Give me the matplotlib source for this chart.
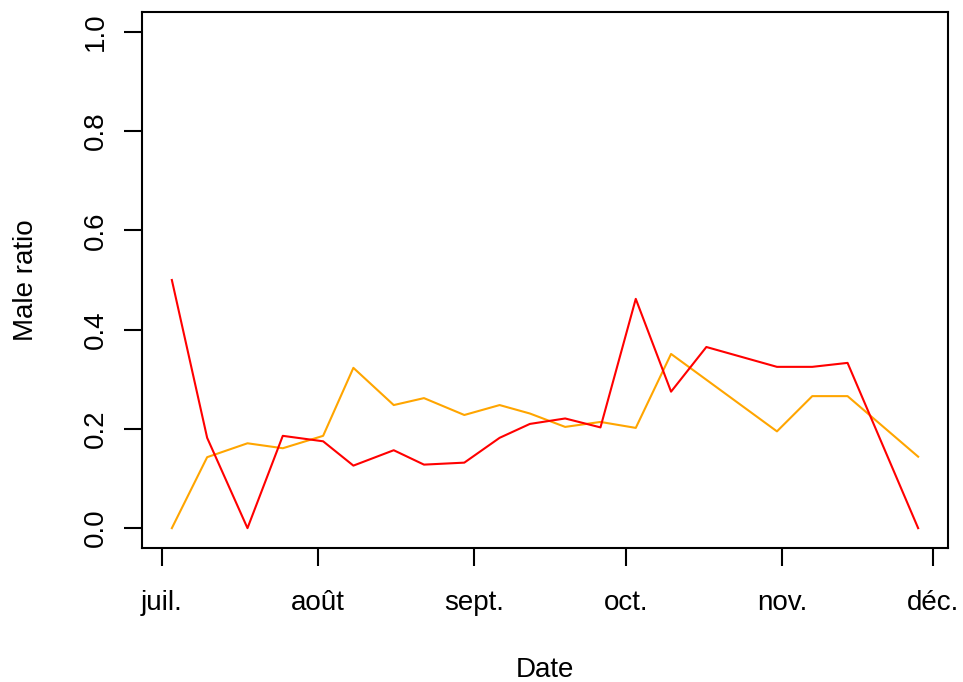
import matplotlib
matplotlib.use("Agg")
import matplotlib.pyplot as plt
import matplotlib.dates as mdates
import datetime as dt

plt.rcParams['font.family'] = ['Liberation Sans', 'DejaVu Sans']

# Sampling dates and male ratios for the two series
red_dates = ["2021-07-03", "2021-07-10", "2021-07-18", "2021-07-25", "2021-08-02",
             "2021-08-08", "2021-08-16", "2021-08-22", "2021-08-30", "2021-09-06",
             "2021-09-12", "2021-09-19", "2021-09-26", "2021-10-03", "2021-10-10",
             "2021-10-17", "2021-10-31", "2021-11-07", "2021-11-14", "2021-11-28"]
red_ratio = [0.500, 0.182, 0.000, 0.186, 0.175, 0.126, 0.157, 0.128, 0.132, 0.182,
             0.210, 0.221, 0.203, 0.462, 0.275, 0.365, 0.325, 0.325, 0.333, 0.000]

orange_dates = ["2021-07-03", "2021-07-10", "2021-07-18", "2021-07-25", "2021-08-02",
                "2021-08-08", "2021-08-16", "2021-08-22", "2021-08-30", "2021-09-06",
                "2021-09-12", "2021-09-19", "2021-09-26", "2021-10-03", "2021-10-10",
                "2021-10-31", "2021-11-07", "2021-11-14", "2021-11-28"]
orange_ratio = [0.000, 0.143, 0.171, 0.161, 0.186, 0.323, 0.248, 0.262, 0.228, 0.248,
                0.231, 0.204, 0.214, 0.202, 0.351, 0.195, 0.266, 0.266, 0.144]

month_ticks = ["2021-07-01", "2021-08-01", "2021-09-01", "2021-10-01", "2021-11-01", "2021-12-01"]
month_labels = ["juil.", "août", "sept.", "oct.", "nov.", "déc."]
y_ticks = [0.0, 0.2, 0.4, 0.6, 0.8, 1.0]

to_dt = lambda xs: [dt.datetime.strptime(s, "%Y-%m-%d") for s in xs]

FS = 20

fig = plt.figure(figsize=(9.63, 6.82), dpi=100)
ax = fig.add_axes([142/963, 1 - 548/682, (948 - 142)/963, (548 - 12)/682])

ax.plot(to_dt(orange_dates), orange_ratio, color="#FFA500", lw=1.5)
ax.plot(to_dt(red_dates), red_ratio, color="#FF0000", lw=1.5)

# x range padded by 4% on each side
xd = mdates.date2num(to_dt(red_dates + orange_dates))
lo, hi = xd.min(), xd.max()
pad = 0.04 * (hi - lo)
ax.set_xlim(lo - pad, hi + pad)
ax.set_ylim(-0.04, 1.04)

ax.set_xticks(mdates.date2num(to_dt(month_ticks)))
ax.set_xticklabels(month_labels)
ax.set_yticks(y_ticks)
ax.set_yticklabels([f"{v:.1f}" for v in y_ticks], rotation=90, va="center")

for s in ax.spines.values():
    s.set_linewidth(1.5)
    s.set_color("black")
ax.tick_params(axis="both", direction="out", length=13, width=1.5, labelsize=FS)
ax.tick_params(axis="x", pad=17.3)
ax.tick_params(axis="y", pad=11.2)

ax.set_xlabel("Date", fontsize=FS)
ax.set_ylabel("Male ratio", fontsize=FS)
ax.xaxis.set_label_coords(0.5, -0.2034)
ax.yaxis.set_label_coords(-0.1274, 0.5)

fig.savefig("out.png", dpi=100)
